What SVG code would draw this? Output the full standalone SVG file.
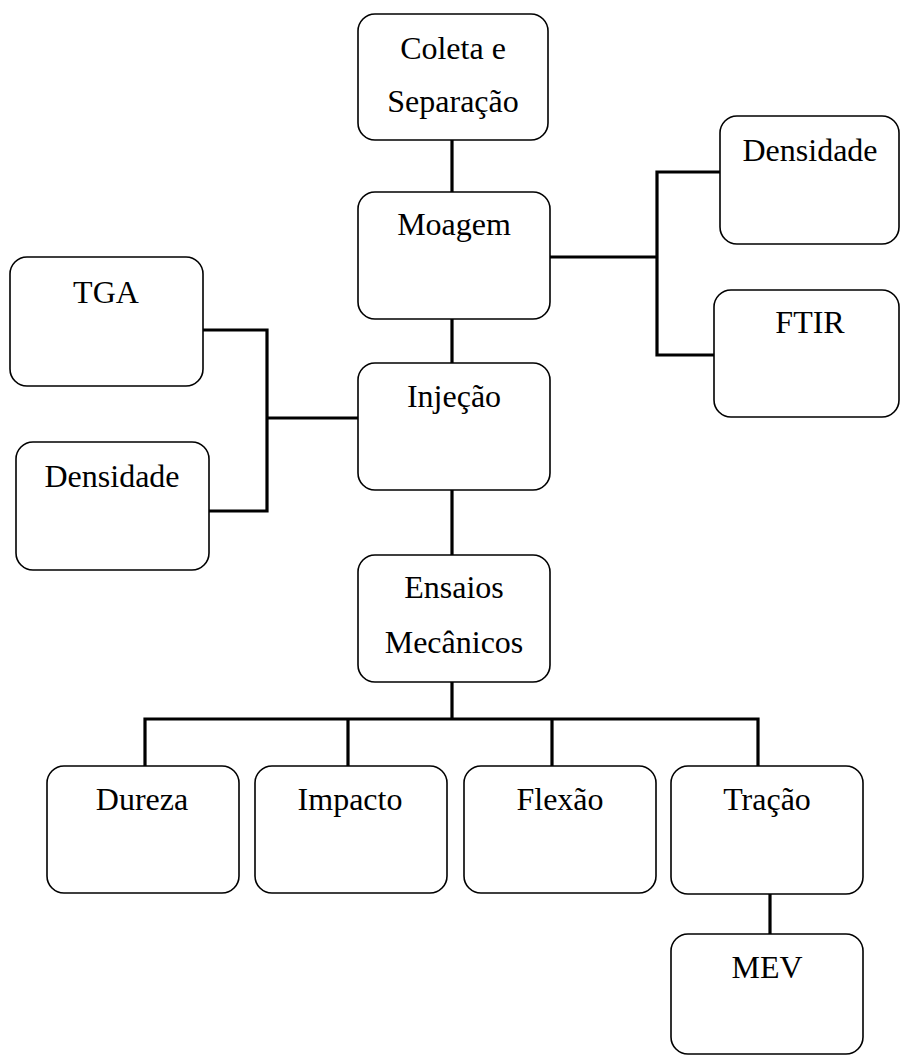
<svg xmlns="http://www.w3.org/2000/svg" width="901" height="1056" viewBox="0 0 901 1056">
<style>
.box{fill:#fff;stroke:#000;stroke-width:1.6}
.t{font-family:"Liberation Serif","Times New Roman",serif;font-size:32px;fill:#000;text-anchor:middle}
.c{fill:none;stroke:#000;stroke-width:3.2;stroke-linecap:square;stroke-linejoin:miter}
</style>
<rect width="901" height="1056" fill="#fff"/>
<g id="connectors">
<path class="c" d="M452 140V192"/>
<path class="c" d="M452 319V363"/>
<path class="c" d="M452 490V555"/>
<path class="c" d="M203 330H267V511H209M267 418H358"/>
<path class="c" d="M550 257H657M720 172H657V355H714"/>
<path class="c" d="M452 682V719M145 766V719H758V766M348 719V766M552 719V766"/>
<path class="c" d="M770 894V934"/>
</g>
<g id="coleta"><rect class="box" x="358" y="14" width="190" height="126" rx="17"/><text class="t" x="453" y="59">Coleta e</text><text class="t" x="453" y="112">Separação</text></g>
<g id="moagem"><rect class="box" x="358" y="192" width="192" height="127" rx="17"/><text class="t" x="454" y="235">Moagem</text></g>
<g id="injecao"><rect class="box" x="358" y="363" width="192" height="127" rx="17"/><text class="t" x="454" y="407">Injeção</text></g>
<g id="ensaios"><rect class="box" x="358" y="555" width="192" height="127" rx="17"/><text class="t" x="454" y="598">Ensaios</text><text class="t" x="454" y="653">Mecânicos</text></g>
<g id="tga"><rect class="box" x="10" y="257" width="193" height="129" rx="17"/><text class="t" x="106" y="303">TGA</text></g>
<g id="densidade-esq"><rect class="box" x="16" y="442" width="193" height="128" rx="17"/><text class="t" x="112" y="487">Densidade</text></g>
<g id="densidade-dir"><rect class="box" x="720" y="116" width="179" height="128" rx="17"/><text class="t" x="810" y="161">Densidade</text></g>
<g id="ftir"><rect class="box" x="714" y="290" width="185" height="127" rx="17"/><text class="t" x="810" y="333">FTIR</text></g>
<g id="dureza"><rect class="box" x="47" y="766" width="192" height="127" rx="17"/><text class="t" x="142" y="810">Dureza</text></g>
<g id="impacto"><rect class="box" x="255" y="766" width="192" height="127" rx="17"/><text class="t" x="350" y="810">Impacto</text></g>
<g id="flexao"><rect class="box" x="464" y="766" width="192" height="127" rx="17"/><text class="t" x="560" y="810">Flexão</text></g>
<g id="tracao"><rect class="box" x="671" y="766" width="192" height="128" rx="17"/><text class="t" x="767" y="810">Tração</text></g>
<g id="mev"><rect class="box" x="671" y="934" width="192" height="120" rx="17"/><text class="t" x="767" y="978">MEV</text></g>
</svg>
